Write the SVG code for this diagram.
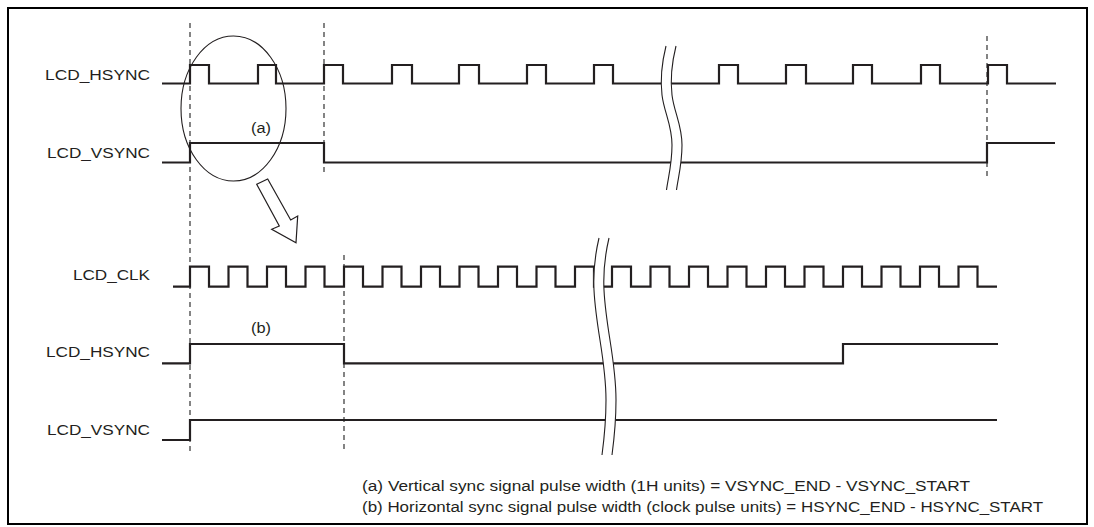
<svg xmlns="http://www.w3.org/2000/svg" width="1094" height="527" viewBox="0 0 1094 527">
  <style>
    .sig { fill: none; stroke: #231f20; stroke-width: 2.2; stroke-linejoin: miter; stroke-linecap: butt; }
    .dash { fill: none; stroke: #333; stroke-width: 1.2; stroke-dasharray: 5 4; }
    .thin { fill: none; stroke: #231f20; stroke-width: 1.1; }
    .brk { fill: #fff; stroke: none; }
    .lbl { font-family: "Liberation Sans", Arial, sans-serif; font-size: 14px; fill: #231f20; }
  </style>
  <rect x="8" y="8" width="1079" height="516" fill="#fff" stroke="#000" stroke-width="2"/>

  <g id="guides">
    <line class="dash" x1="190" y1="23" x2="190" y2="452"/>
    <line class="dash" x1="324" y1="23" x2="324" y2="175"/>
    <line class="dash" x1="987" y1="36" x2="987" y2="180"/>
    <line class="dash" x1="344" y1="255" x2="344" y2="452"/>
  </g>

  <g id="top-hsync">
    <text class="lbl" x="150" y="80.3" text-anchor="end" textLength="105" lengthAdjust="spacingAndGlyphs">LCD_HSYNC</text>
    <path class="sig" d="M162,83.5 H190 V65 H209 V83.5 H258 V65 H276 V83.5 H324 V65 H343 V83.5 H392 V65 H412 V83.5 H459 V65 H479 V83.5 H527 V65 H546 V83.5 H594 V65 H613 V83.5 H719 V65 H738 V83.5 H786 V65 H806 V83.5 H853 V65 H872 V83.5 H921 V65 H940 V83.5 H988 V65 H1007 V83.5 H1056"/>
  </g>

  <g id="top-vsync">
    <text class="lbl" x="150" y="158.3" text-anchor="end" textLength="103" lengthAdjust="spacingAndGlyphs">LCD_VSYNC</text>
    <path class="sig" d="M162,162.5 H190 V143 H324 V162.5 H987 V143 H1055"/>
    <text class="lbl" x="261" y="133" text-anchor="middle" textLength="20" lengthAdjust="spacingAndGlyphs">(a)</text>
  </g>

  <g id="top-break">
    <path class="brk" d="M666,46 C662,62 660,78 662,95 C664,112 672,125 672,145 C672,165 668,178 666.5,190 L676.5,190 C678,178 682,165 682,145 C682,125 674,112 672,95 C670,78 672,62 676,46 Z"/>
    <path class="thin" d="M666,46 C662,62 660,78 662,95 C664,112 672,125 672,145 C672,165 668,178 666.5,190"/>
    <path class="thin" d="M676,46 C672,62 670,78 672,95 C674,112 682,125 682,145 C682,165 678,178 676.5,190"/>
  </g>

  <g id="zoom-mark">
    <ellipse class="thin" cx="233.5" cy="108.5" rx="52.5" ry="72.5"/>
    <polygon points="256.7,184.3 267.7,179 290.7,220 297.7,216 296,242.7 271.7,229.3 279.3,226" fill="#fff" stroke="#231f20" stroke-width="1.2" stroke-linejoin="miter"/>
  </g>

  <g id="clk">
    <text class="lbl" x="150" y="280.3" text-anchor="end" textLength="77" lengthAdjust="spacingAndGlyphs">LCD_CLK</text>
    <path class="sig" d="M173,286.7 H190 V266.7 H209 V286.7 H228.5 V266.7 H247.5 V286.7 H267 V266.7 H286 V286.7 H305.5 V266.7 H324.5 V286.7 H344 V266.7 H363 V286.7 H382.5 V266.7 H401.5 V286.7 H421 V266.7 H440 V286.7 H459.5 V266.7 H478.5 V286.7 H498 V266.7 H517 V286.7 H536.5 V266.7 H555.5 V286.7 H575 V266.7 H594 V286.7 H597"/>
    <path class="sig" d="M600,286.7 H612 V266.7 H631 V286.7 H650.5 V266.7 H669.5 V286.7 H689 V266.7 H708 V286.7 H727.5 V266.7 H746.5 V286.7 H766 V266.7 H785 V286.7 H804.5 V266.7 H823.5 V286.7 H843 V266.7 H862 V286.7 H881.5 V266.7 H900.5 V286.7 H920 V266.7 H939 V286.7 H958.5 V266.7 H977.5 V286.7 H997"/>
  </g>

  <g id="bottom-hsync">
    <text class="lbl" x="150" y="356.7" text-anchor="end" textLength="104" lengthAdjust="spacingAndGlyphs">LCD_HSYNC</text>
    <path class="sig" d="M162,363.3 H190 V344 H344 V363.3 H843 V344 H998"/>
    <text class="lbl" x="261" y="333" text-anchor="middle" textLength="20" lengthAdjust="spacingAndGlyphs">(b)</text>
  </g>

  <g id="bottom-vsync">
    <text class="lbl" x="150" y="435" text-anchor="end" textLength="103" lengthAdjust="spacingAndGlyphs">LCD_VSYNC</text>
    <path class="sig" d="M162,440 H190 V420 H997"/>
  </g>

  <g id="bottom-break">
    <path class="brk" d="M599,238 C595,255 593,270 594,290 C596,330 606,360 606,400 C606,425 604,440 602,455 L612,455 C614,440 616,425 616,400 C616,360 606,330 604,290 C603,270 605,255 609,238 Z"/>
    <path class="thin" d="M599,238 C595,255 593,270 594,290 C596,330 606,360 606,400 C606,425 604,440 602,455"/>
    <path class="thin" d="M609,238 C605,255 603,270 604,290 C606,330 616,360 616,400 C616,425 614,440 612,455"/>
  </g>

  <g id="notes">
    <text class="lbl" x="362" y="491" textLength="608" lengthAdjust="spacingAndGlyphs">(a) Vertical sync signal pulse width (1H units) = VSYNC_END - VSYNC_START</text>
    <text class="lbl" x="362" y="512" textLength="681" lengthAdjust="spacingAndGlyphs">(b) Horizontal sync signal pulse width (clock pulse units) = HSYNC_END - HSYNC_START</text>
  </g>
</svg>
